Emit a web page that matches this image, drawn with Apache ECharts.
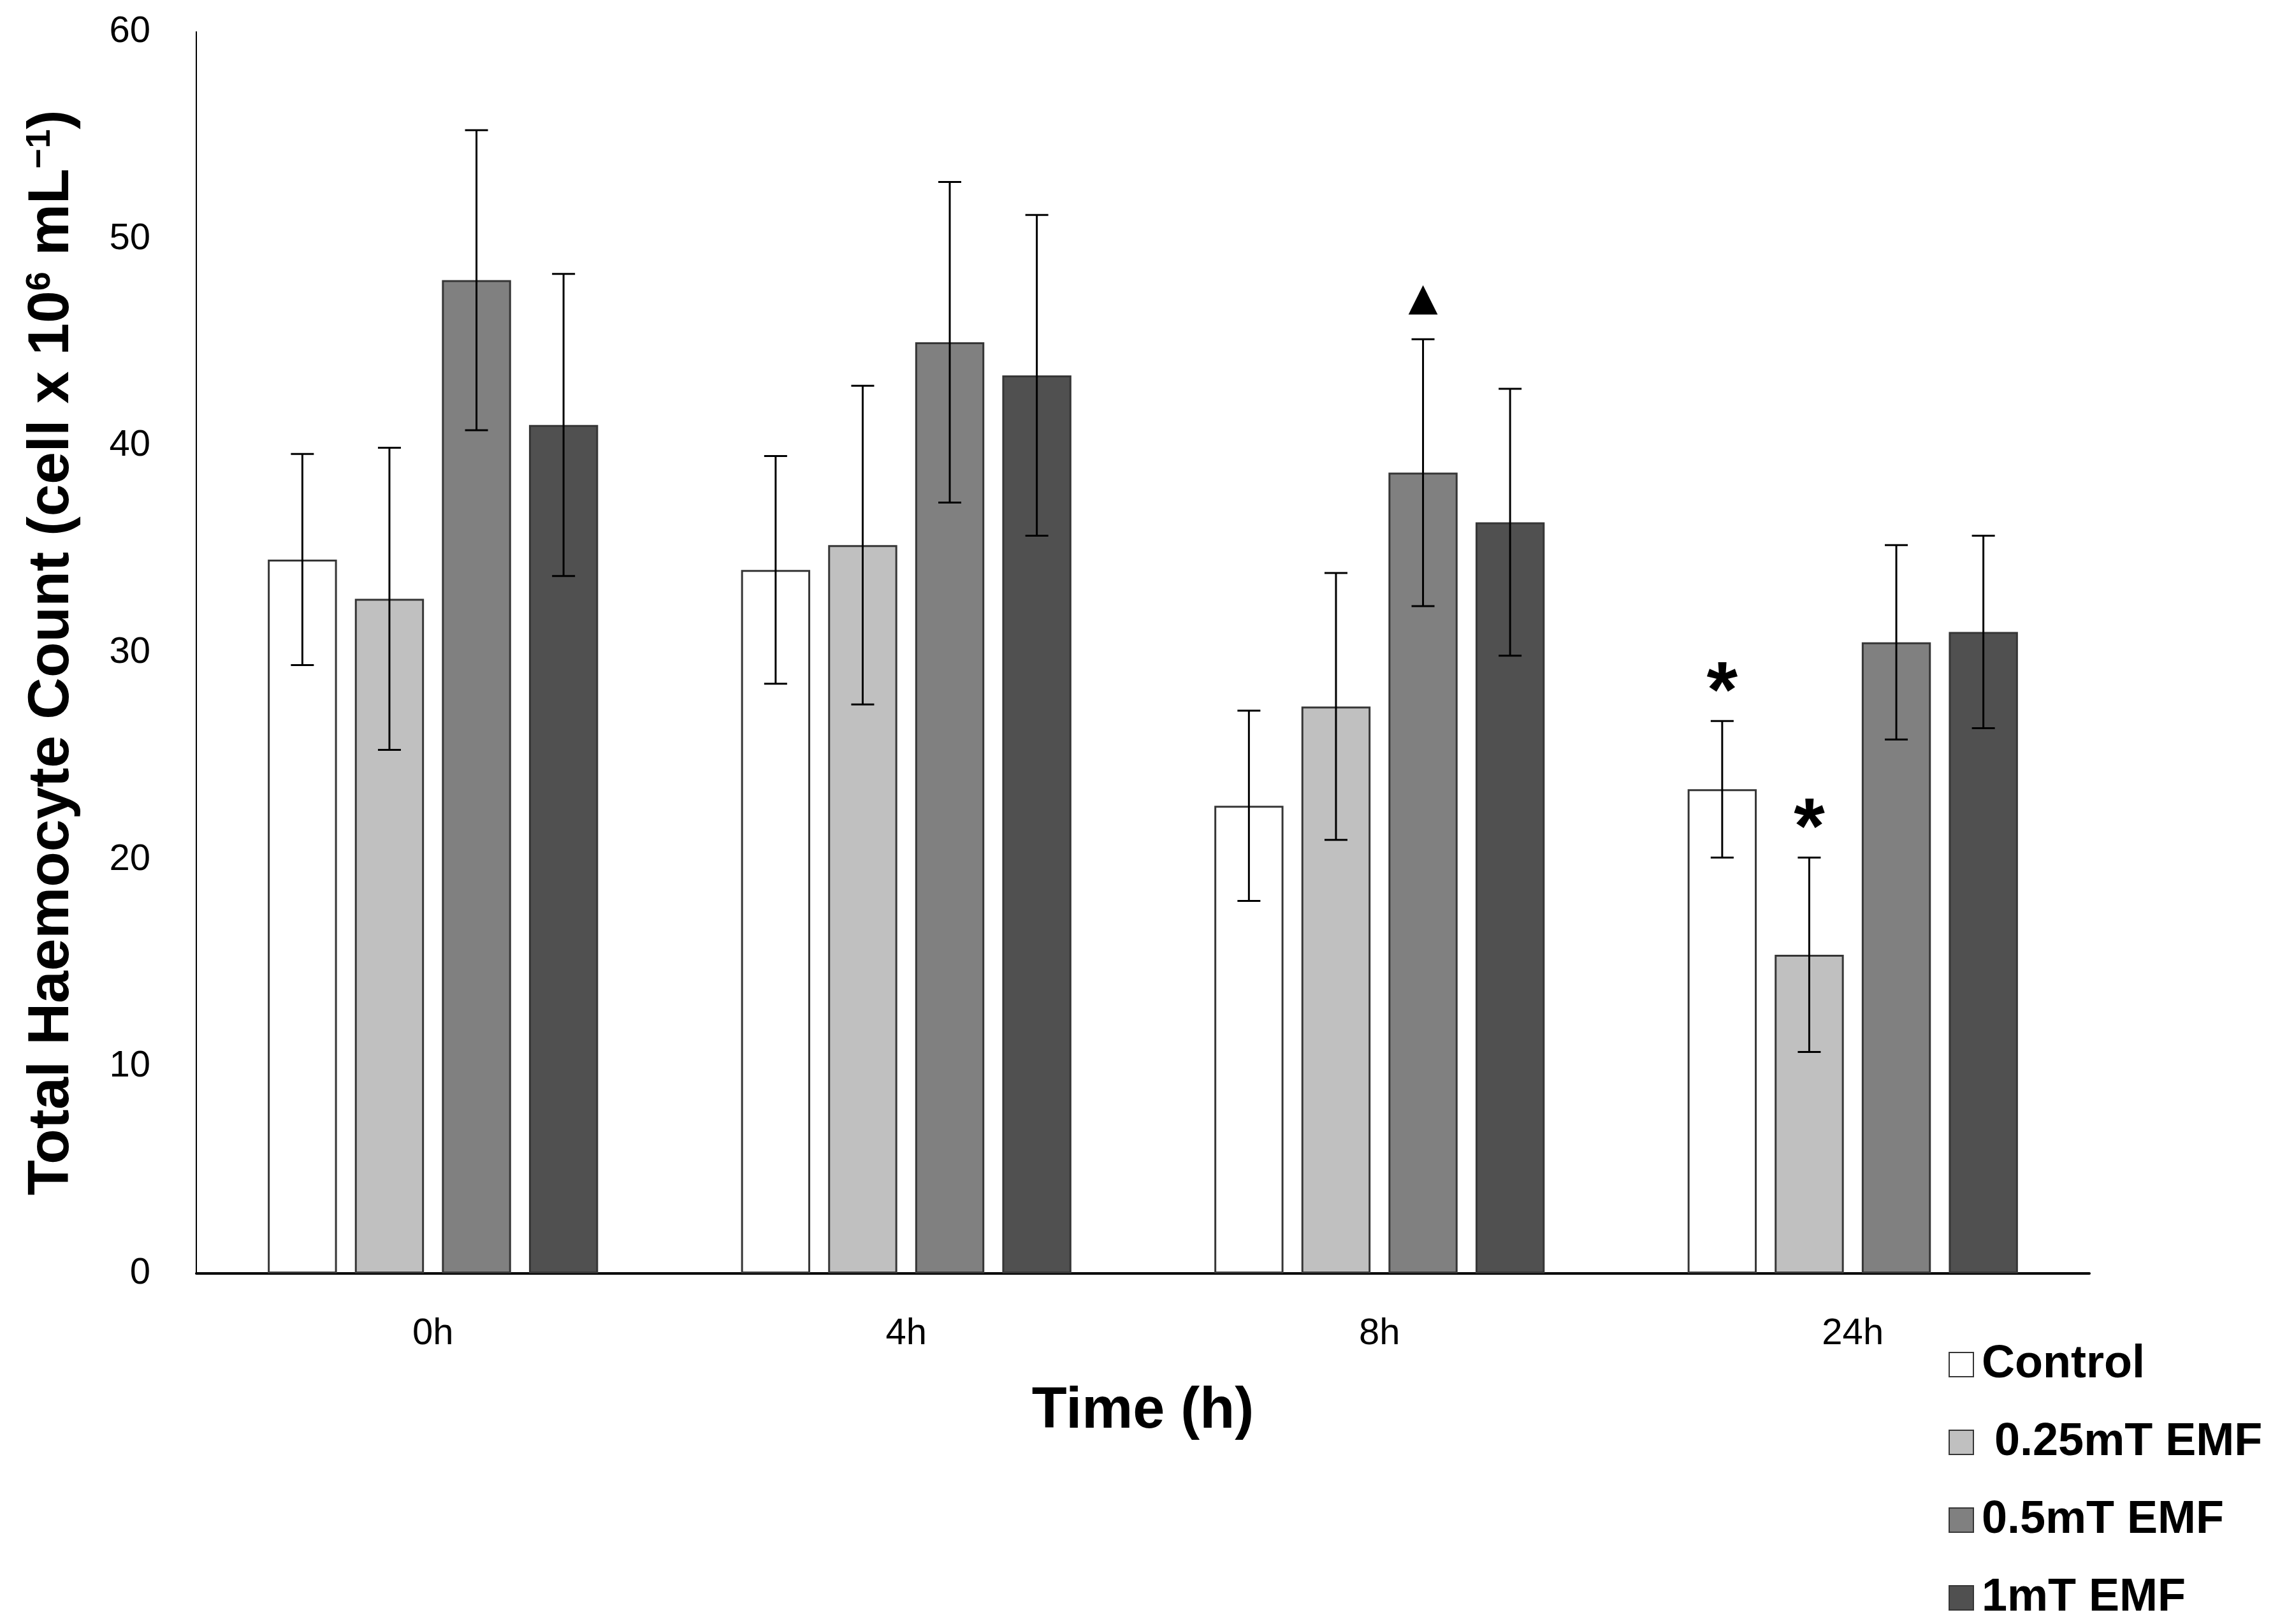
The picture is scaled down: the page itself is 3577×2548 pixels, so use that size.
<!DOCTYPE html>
<html>
<head>
<meta charset="utf-8">
<title>Total Haemocyte Count</title>
<script src="https://cdn.jsdelivr.net/npm/echarts@6/dist/echarts.min.js"></script>
<style>
  html, body { margin: 0; padding: 0; background: #fff; }
  #main { width: 3577px; height: 2548px; }
</style>
</head>
<body>
<div id="main"></div>
<script>
// data
var times = ['0h', '4h', '8h', '24h'];
var groups = ['Control', ' 0.25mT EMF', '0.5mT EMF', '1mT EMF'];
var control = [34.5, 34.0, 22.6, 23.4];
var controlSd = [5.1, 5.5, 4.6, 3.3];
var emf025 = [32.6, 35.2, 27.4, 15.4];
var emf025Sd = [7.3, 7.7, 6.45, 4.7];
var emf05 = [48.0, 45.0, 38.7, 30.5];
var emf05Sd = [7.25, 7.75, 6.45, 4.7];
var emf1 = [41.0, 43.4, 36.3, 31.0];
var emf1Sd = [7.3, 7.75, 6.45, 4.65];
var yTicks = [0, 10, 20, 30, 40, 50, 60];
// significance marks: [time index, group index, symbol]
var marks = [[2, 2, '\u25B2'], [3, 0, '*'], [3, 1, '*']];

var colors = ['#ffffff', '#c0c0c0', '#808080', '#505050'];
var BAR_W = 0.146, BAR_GAP = 0.26;
var tickFont = '"Liberation Sans", sans-serif';

var chart = echarts.init(document.getElementById('main'));

var means = [control, emf025, emf05, emf1];
var sds = [controlSd, emf025Sd, emf05Sd, emf1Sd];

function offsetOf(api, g) {
  var band = api.size([1, 0])[0];
  var w = band * BAR_W;
  return (g - 1.5) * (w + w * BAR_GAP);
}

var series = [];
groups.forEach(function (name, g) {
  series.push({
    name: name,
    type: 'bar',
    data: means[g],
    barWidth: (BAR_W * 100) + '%',
    barGap: (BAR_GAP * 100) + '%',
    itemStyle: { color: colors[g], borderColor: '#363636', borderWidth: 3 },
    emphasis: { disabled: true }
  });
});

// error bars
groups.forEach(function (name, g) {
  var d = means[g].map(function (m, i) { return [i, m - sds[g][i], m + sds[g][i]]; });
  series.push({
    type: 'custom',
    name: name + ' err',
    data: d,
    z: 5,
    silent: true,
    renderItem: function (params, api) {
      var lo = api.coord([api.value(0), api.value(1)]);
      var hi = api.coord([api.value(0), api.value(2)]);
      var x = lo[0] + offsetOf(api, g);
      var cap = 18;
      var st = { stroke: '#000', lineWidth: 3 };
      return {
        type: 'group',
        children: [
          { type: 'line', shape: { x1: x, y1: lo[1], x2: x, y2: hi[1] }, style: st },
          { type: 'line', shape: { x1: x - cap, y1: lo[1], x2: x + cap, y2: lo[1] }, style: st },
          { type: 'line', shape: { x1: x - cap, y1: hi[1], x2: x + cap, y2: hi[1] }, style: st }
        ]
      };
    }
  });
});

// significance symbols above error bars
series.push({
  type: 'custom',
  name: 'marks',
  silent: true,
  z: 6,
  data: marks.map(function (m) {
    return [m[0], means[m[1]][m[0]] + sds[m[1]][m[0]], m[1]];
  }),
  renderItem: function (params, api) {
    var g = api.value(2);
    var sym = marks[params.dataIndex][2];
    var p = api.coord([api.value(0), api.value(1)]);
    var x = p[0] + offsetOf(api, g);
    var isTri = sym !== '*';
    return {
      type: 'text',
      x: x,
      y: isTri ? p[1] - 32 : p[1] + 22,
      style: {
        text: sym,
        fill: '#000',
        font: isTri ? '60px DejaVu Sans' : 'bold 125px "Liberation Sans"',
        textAlign: 'center',
        textVerticalAlign: 'bottom'
      }
    };
  }
});

var option = {
  backgroundColor: '#ffffff',
  animation: false,
  grid: { left: 308, right: 299, top: 50, bottom: 550, containLabel: false },
  legend: {
    data: groups,
    orient: 'vertical',
    left: 3052,
    top: 2100,
    itemWidth: 38,
    itemHeight: 38,
    itemGap: 50,
    icon: 'rect',
    selectedMode: false,
    textStyle: {
      fontFamily: 'Liberation Sans',
      fontWeight: 'bold',
      fontSize: 72,
      color: '#000',
      padding: [0, 0, 0, 8]
    }
  },
  xAxis: {
    type: 'category',
    data: times,
    name: 'Time (h)',
    nameLocation: 'middle',
    nameGap: 172,
    nameTextStyle: { fontFamily: 'Liberation Sans', fontWeight: 'bold', fontSize: 90, color: '#000' },
    axisLine: { lineStyle: { color: '#000', width: 4 } },
    axisTick: { show: false },
    axisLabel: { fontFamily: tickFont, fontSize: 58, color: '#000', margin: 66 }
  },
  yAxis: {
    type: 'value',
    min: yTicks[0],
    max: yTicks[yTicks.length - 1],
    interval: 10,
    name: '{t|Total Haemocyte Count (cell x 10}{s|6}{t| mL}{s|\u22121}{t|)}',
    nameLocation: 'middle',
    nameGap: 180,
    nameTextStyle: {
      color: '#000',
      rich: {
        t: { fontFamily: 'Liberation Sans', fontWeight: 'bold', fontSize: 91, color: '#000' },
        s: { fontFamily: 'Liberation Sans', fontWeight: 'bold', fontSize: 54, color: '#000', padding: [0, 0, 38, 0] }
      }
    },
    axisLine: { show: true, lineStyle: { color: '#000', width: 2 } },
    axisTick: { show: false },
    splitLine: { show: false },
    axisLabel: { fontFamily: tickFont, fontSize: 58, color: '#000', margin: 72 }
  },
  series: series
};

chart.setOption(option);
</script>
</body>
</html>
